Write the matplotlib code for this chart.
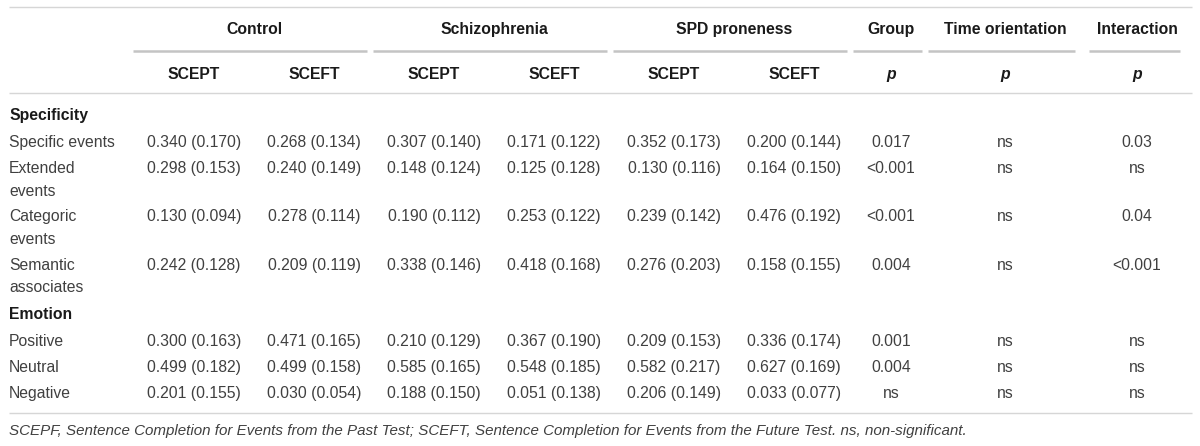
import matplotlib
matplotlib.use("Agg")
import matplotlib.pyplot as plt

# ---------------- data ----------------
group_headers = ["Control", "Schizophrenia", "SPD proneness", "Group", "Time orientation", "Interaction"]
sub_headers = ["SCEPT", "SCEFT", "SCEPT", "SCEFT", "SCEPT", "SCEFT", "p", "p", "p"]

section_specificity = "Specificity"
section_emotion = "Emotion"

spec_labels = ["Specific events", "Extended\nevents", "Categoric\nevents", "Semantic\nassociates"]
spec_control_scept = ["0.340 (0.170)", "0.298 (0.153)", "0.130 (0.094)", "0.242 (0.128)"]
spec_control_sceft = ["0.268 (0.134)", "0.240 (0.149)", "0.278 (0.114)", "0.209 (0.119)"]
spec_schizo_scept = ["0.307 (0.140)", "0.148 (0.124)", "0.190 (0.112)", "0.338 (0.146)"]
spec_schizo_sceft = ["0.171 (0.122)", "0.125 (0.128)", "0.253 (0.122)", "0.418 (0.168)"]
spec_spd_scept = ["0.352 (0.173)", "0.130 (0.116)", "0.239 (0.142)", "0.276 (0.203)"]
spec_spd_sceft = ["0.200 (0.144)", "0.164 (0.150)", "0.476 (0.192)", "0.158 (0.155)"]
spec_p_group = ["0.017", "<0.001", "<0.001", "0.004"]
spec_p_time = ["ns", "ns", "ns", "ns"]
spec_p_inter = ["0.03", "ns", "0.04", "<0.001"]

emo_labels = ["Positive", "Neutral", "Negative"]
emo_control_scept = ["0.300 (0.163)", "0.499 (0.182)", "0.201 (0.155)"]
emo_control_sceft = ["0.471 (0.165)", "0.499 (0.158)", "0.030 (0.054)"]
emo_schizo_scept = ["0.210 (0.129)", "0.585 (0.165)", "0.188 (0.150)"]
emo_schizo_sceft = ["0.367 (0.190)", "0.548 (0.185)", "0.051 (0.138)"]
emo_spd_scept = ["0.209 (0.153)", "0.582 (0.217)", "0.206 (0.149)"]
emo_spd_sceft = ["0.336 (0.174)", "0.627 (0.169)", "0.033 (0.077)"]
emo_p_group = ["0.001", "0.004", "ns"]
emo_p_time = ["ns", "ns", "ns"]
emo_p_inter = ["ns", "ns", "ns"]

footnote = ("SCEPF, Sentence Completion for Events from the Past Test; SCEFT, Sentence "
            "Completion for Events from the Future Test. ns, non-significant.")

# ---------------- layout ----------------
W, H = 1200, 446
fig = plt.figure(figsize=(W / 100, H / 100), dpi=100)
ax = fig.add_axes([0, 0, 1, 1])
ax.set_xlim(0, W)
ax.set_ylim(H, 0)
ax.axis("off")

FONT = ["Liberation Sans", "DejaVu Sans"]
FS = 11.3
TXT = "#404040"
BOLD = "#1a1a1a"
LINE_LIGHT = "#d6d6d6"
LINE_MID = "#c4c4c4"

col_x = [194, 314, 434, 554, 674, 794, 891, 1005, 1137]
group_x = [254, 494, 734, 891, 1005, 1137]
group_spans = [(133, 367), (373, 607), (613, 847), (853, 922), (928, 1075), (1089, 1180)]
left_x = 9
right_x = 1192

def t(x, y, s, ha="center", weight="normal", style="normal", color=TXT, size=FS):
    ax.text(x, y, s, ha=ha, va="center_baseline", fontsize=size, fontweight=weight,
            fontstyle=style, color=color, family=FONT)

# rules
ax.plot([left_x, right_x], [7, 7], color=LINE_LIGHT, lw=1.0, solid_capstyle="butt")
for (a, b) in group_spans:
    ax.plot([a, b], [51, 51], color=LINE_MID, lw=1.8, solid_capstyle="butt")
ax.plot([left_x, right_x], [93, 93], color=LINE_LIGHT, lw=1.0, solid_capstyle="butt")
ax.plot([left_x, right_x], [413, 413], color=LINE_LIGHT, lw=1.0, solid_capstyle="butt")

# headers
for x, s in zip(group_x, group_headers):
    t(x, 28, s, weight="bold", color=BOLD)
for x, s in zip(col_x, sub_headers):
    t(x, 73, s, weight="bold", color=BOLD, style="italic" if s == "p" else "normal")

# sections
t(left_x, 114, section_specificity, ha="left", weight="bold", color=BOLD)
t(left_x, 313, section_emotion, ha="left", weight="bold", color=BOLD)

spec_cols = [spec_control_scept, spec_control_sceft, spec_schizo_scept, spec_schizo_sceft,
             spec_spd_scept, spec_spd_sceft, spec_p_group, spec_p_time, spec_p_inter]
emo_cols = [emo_control_scept, emo_control_sceft, emo_schizo_scept, emo_schizo_sceft,
            emo_spd_scept, emo_spd_sceft, emo_p_group, emo_p_time, emo_p_inter]

spec_y = [141, 167, 215, 264]
emo_y = [340, 366, 392]
LINE_STEP = 22.5

for labels, cols, ys in [(spec_labels, spec_cols, spec_y), (emo_labels, emo_cols, emo_y)]:
    for i, (lab, y) in enumerate(zip(labels, ys)):
        for k, part in enumerate(lab.split("\n")):
            t(left_x, y + k * LINE_STEP, part, ha="left")
        for x, col in zip(col_x, cols):
            t(x, y, col[i])

t(left_x, 429, footnote, ha="left", style="italic", size=10.9)

fig.savefig("out.png", dpi=100, facecolor="white")
